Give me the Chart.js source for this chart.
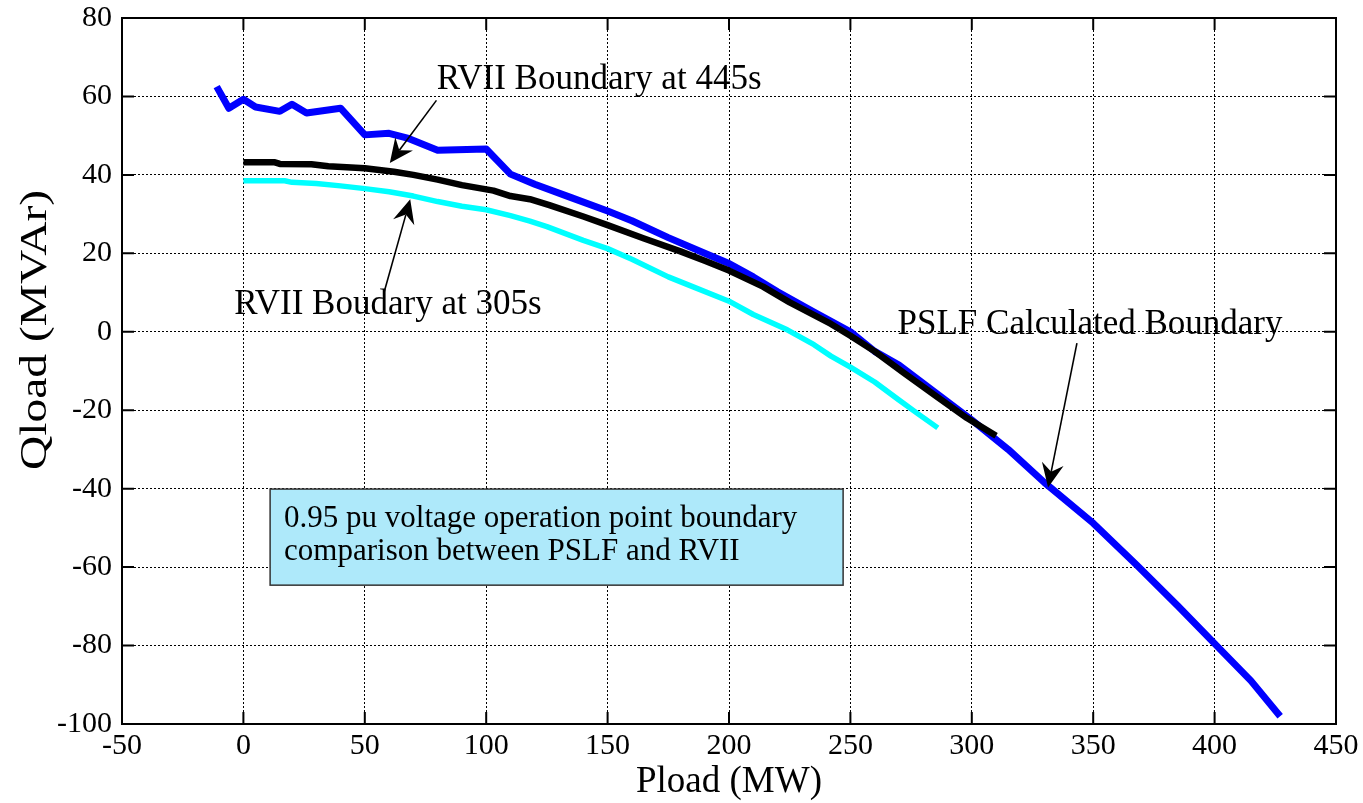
<!DOCTYPE html>
<html><head><meta charset="utf-8">
<script src="https://cdn.jsdelivr.net/npm/chart.js@4.4.0/dist/chart.umd.min.js"></script>
<style>html,body{margin:0;padding:0;background:#fff;}#wrap{width:1363px;height:803px;}</style>
</head><body><div id="wrap"><canvas id="c" width="1363" height="803"></canvas></div>
<script>
// PSLF calculated boundary (blue)
const pslfX = [-11, -6, 0, 5, 15, 20, 26, 40, 50, 60, 68, 80, 100, 110, 120, 135, 150, 160, 175, 190, 200, 210, 220, 235, 250, 260, 270, 285, 300, 315, 330, 350, 368, 385, 400, 415, 427];
const pslfY = [62.5, 57, 59.3, 57.3, 56.2, 58, 55.8, 57, 50.2, 50.6, 49.3, 46.3, 46.6, 40.2, 37.6, 34.2, 30.8, 28.3, 24, 20, 17.4, 14, 10.2, 5, 0, -5, -8.5, -15.5, -22.5, -30, -38.5, -48.8, -59.5, -70, -79.5, -89, -98];
// RVII boundary at 445s (black)
const rvii445X = [0, 13, 15, 28, 35, 50, 62, 70, 80, 90, 103, 110, 118, 126, 140, 150, 165, 180, 190, 200, 214, 225, 242, 250, 260, 272, 285, 298, 310];
const rvii445Y = [43.2, 43.2, 42.8, 42.7, 42.2, 41.7, 40.8, 40, 38.8, 37.4, 36, 34.6, 33.8, 32.3, 29.4, 27.2, 23.8, 20.5, 18.1, 15.6, 11.5, 7.5, 2, -1, -5, -10.5, -16.3, -22, -26.5];
// RVII boundary at 305s (cyan)
const rvii305X = [0, 10, 17, 20, 30, 40, 50, 60, 70, 80, 90, 100, 110, 118, 125, 140, 150, 160, 175, 185, 200, 210, 224, 235, 242, 250, 260, 270, 278, 286];
const rvii305Y = [38.5, 38.5, 38.5, 38.1, 37.8, 37.2, 36.5, 35.7, 34.6, 33.2, 32, 31.1, 29.6, 28.2, 26.8, 23.3, 21.2, 18.5, 14, 11.5, 7.8, 4.4, 0.5, -3.3, -6.2, -9, -12.8, -17.4, -21, -24.5];
// axis ticks
const xTicks = [-50, 0, 50, 100, 150, 200, 250, 300, 350, 400, 450];
const yTicks = [-100, -80, -60, -40, -20, 0, 20, 40, 60, 80];
// annotation texts
const labels = [
  {text: 'RVII Boundary at 445s', x: 146.5, y: 64.2, ax: 79.5, ay: 59, tx: 60.3, ty: 43},
  {text: 'RVII Boudary at 305s', x: 59.5, y: 6.8, ax: 58, ay: 10.2, tx: 68.7, ty: 33.8},
  {text: 'PSLF Calculated Boundary', x: 348.7, y: 1.7, ax: 343.3, ay: -2.9, tx: 331.4, ty: -39.7}
];
const boxLines = ['0.95 pu voltage operation point boundary', 'comparison between PSLF and RVII'];
const boxRange = {x0: 11, x1: 247, y0: -40.1, y1: -64.6};
const yTitle = 'Qload (MVAr)';
const xTitle = 'Pload (MW)';

const FONT = '"Liberation Serif", "Times New Roman", serif';
const toPts = (xs, ys) => xs.map((v, i) => ({x: v, y: ys[i]}));

function arrow(ctx, x1, y1, x2, y2) {
  const ang = Math.atan2(y2 - y1, x2 - x1);
  const L = 24, W = 11, back = 16;
  ctx.save();
  ctx.strokeStyle = '#000'; ctx.fillStyle = '#000'; ctx.lineWidth = 1.6;
  ctx.beginPath(); ctx.moveTo(x1, y1);
  ctx.lineTo(x2 - Math.cos(ang) * back, y2 - Math.sin(ang) * back); ctx.stroke();
  const c = Math.cos(ang), s = Math.sin(ang);
  ctx.beginPath();
  ctx.moveTo(x2, y2);
  ctx.lineTo(x2 - L * c + W * s, y2 - L * s - W * c);
  ctx.lineTo(x2 - back * c, y2 - back * s);
  ctx.lineTo(x2 - L * c - W * s, y2 - L * s + W * c);
  ctx.closePath(); ctx.fill();
  ctx.restore();
}

const deco = {
  id: 'deco',
  afterDatasetsDraw(chart) {
    const {ctx, scales: {x, y}} = chart;
    const bx0 = x.getPixelForValue(boxRange.x0), bx1 = x.getPixelForValue(boxRange.x1);
    const by0 = y.getPixelForValue(boxRange.y0), by1 = y.getPixelForValue(boxRange.y1);
    ctx.save();
    ctx.fillStyle = '#aee9fa';
    ctx.fillRect(bx0, by0, bx1 - bx0, by1 - by0);
    ctx.strokeStyle = '#333'; ctx.lineWidth = 1.5;
    ctx.strokeRect(bx0, by0, bx1 - bx0, by1 - by0);
    ctx.fillStyle = '#000'; ctx.font = '31px ' + FONT;
    ctx.textBaseline = 'alphabetic'; ctx.textAlign = 'left';
    ctx.fillText(boxLines[0], bx0 + 14, by0 + 38);
    ctx.fillText(boxLines[1], bx0 + 14, by0 + 71);
    ctx.restore();
    ctx.save();
    ctx.fillStyle = '#000'; ctx.font = '35px ' + FONT;
    ctx.textAlign = 'center'; ctx.textBaseline = 'middle';
    labels.forEach(l => {
      ctx.fillText(l.text, x.getPixelForValue(l.x), y.getPixelForValue(l.y));
      arrow(ctx, x.getPixelForValue(l.ax), y.getPixelForValue(l.ay), x.getPixelForValue(l.tx), y.getPixelForValue(l.ty));
    });
    ctx.restore();
  },
  afterDraw(chart) {
    const {ctx, chartArea: a, scales: {x, y}} = chart;
    ctx.save();
    ctx.strokeStyle = '#000'; ctx.lineWidth = 2;
    ctx.strokeRect(a.left, a.top, a.right - a.left, a.bottom - a.top);
    const T = 12;
    ctx.beginPath();
    xTicks.forEach(v => {
      const px = x.getPixelForValue(v);
      ctx.moveTo(px, a.bottom); ctx.lineTo(px, a.bottom - T);
      ctx.moveTo(px, a.top); ctx.lineTo(px, a.top + T);
    });
    yTicks.forEach(v => {
      const py = y.getPixelForValue(v);
      ctx.moveTo(a.left, py); ctx.lineTo(a.left + T, py);
      ctx.moveTo(a.right, py); ctx.lineTo(a.right - T, py);
    });
    ctx.stroke();
    // y axis title
    ctx.translate(46, 330);
    ctx.rotate(-Math.PI / 2);
    ctx.scale(1.25, 1);
    ctx.fillStyle = '#000'; ctx.font = '38px ' + FONT;
    ctx.textAlign = 'center'; ctx.textBaseline = 'alphabetic';
    ctx.fillText(yTitle, 0, 0);
    ctx.restore();
  }
};

new Chart(document.getElementById('c'), {
  type: 'scatter',
  data: {
    datasets: [
      {label: 'RVII Boudary at 305s', data: toPts(rvii305X, rvii305Y), borderColor: '#00ffff', borderWidth: 5.5, order: 3},
      {label: 'PSLF Calculated Boundary', data: toPts(pslfX, pslfY), borderColor: '#0000ff', borderWidth: 7, order: 2},
      {label: 'RVII Boundary at 445s', data: toPts(rvii445X, rvii445Y), borderColor: '#000000', borderWidth: 6.5, order: 1}
    ].map(d => Object.assign(d, {showLine: true, pointRadius: 0, pointHoverRadius: 0, tension: 0, fill: false, borderJoinStyle: 'round'}))
  },
  options: {
    responsive: false, animation: false, devicePixelRatio: 1,
    layout: {padding: {top: 18, right: 27, left: 0, bottom: 0}},
    plugins: {legend: {display: false}, tooltip: {enabled: false}},
    scales: {
      x: {
        type: 'linear', min: -50, max: 450,
        afterBuildTicks: s => { s.ticks = xTicks.map(v => ({value: v})); },
        afterFit: s => { s.height = 79; s.paddingLeft = 0; s.paddingRight = 0; },
        ticks: {color: '#000', font: {family: FONT, size: 30}, padding: 4, maxRotation: 0},
        grid: {color: '#000', lineWidth: 1, drawTicks: false},
        border: {display: false, dash: [2, 2]},
        title: {display: true, text: xTitle, color: '#000', font: {family: FONT, size: 37, lineHeight: 1}, padding: {top: 0, bottom: 2}}
      },
      y: {
        type: 'linear', min: -100, max: 80,
        afterBuildTicks: s => { s.ticks = yTicks.map(v => ({value: v})); },
        afterFit: s => { s.width = 122; s.paddingTop = 0; s.paddingBottom = 0; },
        ticks: {color: '#000', font: {family: FONT, size: 30}, padding: 10},
        grid: {color: '#000', lineWidth: 1, drawTicks: false},
        border: {display: false, dash: [2, 2]},
        title: {display: false}
      }
    }
  },
  plugins: [deco]
});
</script></body></html>
